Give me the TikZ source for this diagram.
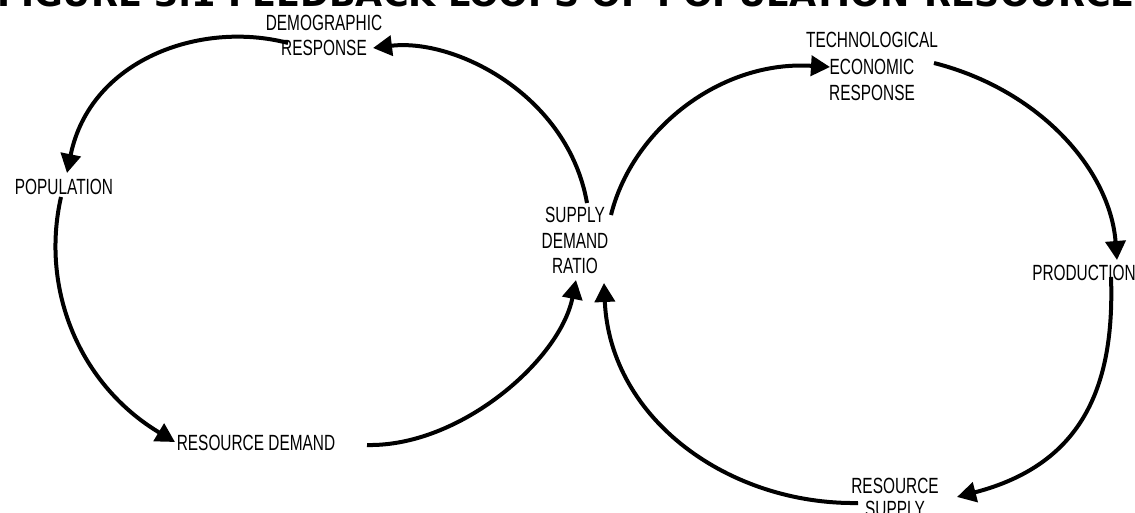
\documentclass[tikz,border=0pt]{standalone}
\usepackage{fontspec}
\usetikzlibrary{arrows.meta,calc}
\newfontfamily\lblfont{Liberation Sans}[FakeStretch=0.7]
\newfontfamily\ttlfont{DejaVu Sans}
\tikzset{
  lbl/.style={inner sep=0pt, anchor=north, align=center, text=black,
    font=\lblfont\fontsize{22}{25}\selectfont},
  conn/.style={line width=4pt, -{Triangle[length=19pt,width=20pt]}},
}
\begin{document}
\begin{tikzpicture}[x=1pt,y=-1pt]
\useasboundingbox (0,0) rectangle (1135,513);
\begin{scope}
\clip (0,0) rectangle (1135,513);
\node[anchor=base west, inner sep=0pt, font=\ttlfont\bfseries\fontsize{35}{40}\selectfont] (title) at (-3,7) {FIGURE 3.1 FEEDBACK LOOPS OF POPULATION-RESOURCE};
\end{scope}
% labels
\node[lbl, font=\lblfont\fontsize{22}{24.5}\selectfont] (demo) at (324,15) {DEMOGRAPHIC\\RESPONSE};
\node[lbl] (pop) at (64,179) {POPULATION};
\node[lbl] (rd) at (256,435) {RESOURCE DEMAND};
\node[lbl, font=\lblfont\fontsize{22}{25.5}\selectfont] (sdr) at (575,207) {SUPPLY\\DEMAND\\RATIO};
\node[lbl, font=\lblfont\fontsize{22}{26.5}\selectfont] (tech) at (872,32) {TECHNOLOGICAL\\ECONOMIC\\RESPONSE};
\node[lbl] (prod) at (1084,265) {PRODUCTION};
\node[lbl, font=\lblfont\fontsize{22}{22.5}\selectfont] (rs) at (895,478) {RESOURCE\\SUPPLY};
% left loop
\draw[conn] ($(sdr.north)+(12,-4)$) .. controls +(-19,-108) and +(82,-10) .. ($(demo.north)+(49,33)$);
\draw[conn] ($(demo.north)+(-36,28)$) .. controls +(-88,-23) and +(23,-113) .. ($(pop.north)+(3,-6)$);
\draw[conn] ($(pop.north)+(-3,18)$) .. controls +(-21,93) and +(-95,-57) .. ($(rd.north)+(-81,7)$);
\draw[conn] ($(rd.north)+(111,10)$) .. controls +(93,2) and +(-16,80) .. ($(sdr.north)+(1,73)$);
% right loop
\draw[conn] ($(sdr.north)+(36,8)$) .. controls +(21,-85) and +(-110,-7) .. ($(tech.north)+(-42,35)$);
\draw[conn] ($(tech.north)+(62,31)$) .. controls +(106,27) and +(-7,-90) .. ($(prod.north)+(33,-5)$);
\draw[conn] ($(prod.north)+(27,12)$) .. controls +(4,113) and +(123,-32) .. ($(rs.north)+(62,19)$);
\draw[conn] ($(rs.north)+(-37,25)$) .. controls +(-128,2) and +(6,137) .. ($(sdr.north)+(29,76)$);
\end{tikzpicture}
\end{document}
